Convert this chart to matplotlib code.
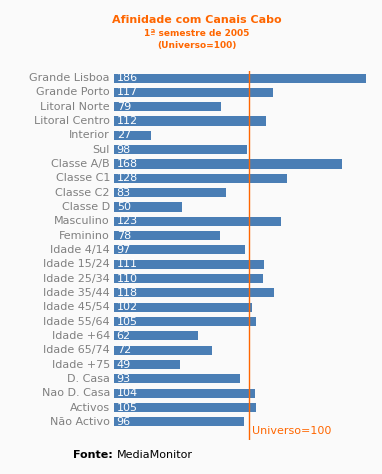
import matplotlib
matplotlib.use("Agg")
import matplotlib.pyplot as plt

categories = ["Grande Lisboa", "Grande Porto", "Litoral Norte", "Litoral Centro", "Interior", "Sul",
              "Classe A/B", "Classe C1", "Classe C2", "Classe D", "Masculino", "Feminino",
              "Idade 4/14", "Idade 15/24", "Idade 25/34", "Idade 35/44", "Idade 45/54", "Idade 55/64",
              "Idade +64", "Idade 65/74", "Idade +75", "D. Casa", "Nao D. Casa", "Activos", "Não Activo"]
values = [186, 117, 79, 112, 27, 98, 168, 128, 83, 50, 123, 78, 97, 111, 110, 118, 102, 105,
          62, 72, 49, 93, 104, 105, 96]
reference = 100

W, H = 382, 474
bg = "#fafafa"
bar_color = "#4a7eb5"
orange = "#ff6600"
gray = "#808080"

fig = plt.figure(figsize=(W/100, H/100), dpi=100, facecolor=bg)
ax_l, ax_r, ax_t, ax_b = 114, 366, 71, 440
ax = fig.add_axes([ax_l/W, 1-ax_b/H, (ax_r-ax_l)/W, (ax_b-ax_t)/H])
ax.set_facecolor(bg)
n = len(categories)
pos = list(range(n))
ax.barh(pos, values, height=0.63, color=bar_color, zorder=2)
ax.set_xlim(0, max(values))
ax.set_ylim(n - 1 + 1.26, -0.49)
for i, (c, v) in enumerate(zip(categories, values)):
    ax.text(-3, i, c, ha="right", va="center", fontsize=8, color=gray)
    ax.text(2, i, str(v), ha="left", va="center", fontsize=8, color="white", zorder=3)
ax.axvline(reference, color=orange, lw=1, zorder=4)
for s in ax.spines.values():
    s.set_visible(False)
ax.set_xticks([])
ax.set_yticks([])

ax.text(reference + 2, n - 1 + 0.65, "Universo=100", color=orange, fontsize=8, ha="left", va="center")

fig.text(197/W, 1-20/H, "Afinidade com Canais Cabo", color=orange, fontsize=8, fontweight="bold", ha="center", va="center")
fig.text(197/W, 1-33/H, "1ª semestre de 2005", color=orange, fontsize=6.5, fontweight="bold", ha="center", va="center")
fig.text(197/W, 1-45/H, "(Universo=100)", color=orange, fontsize=6.5, fontweight="bold", ha="center", va="center")

fig.text(73/W, 1-455/H, "Fonte:", color="black", fontsize=8, fontweight="bold", ha="left", va="center")
fig.text(117/W, 1-455/H, "MediaMonitor", color="black", fontsize=8, ha="left", va="center")

fig.savefig("out.png", dpi=100, facecolor=bg)
